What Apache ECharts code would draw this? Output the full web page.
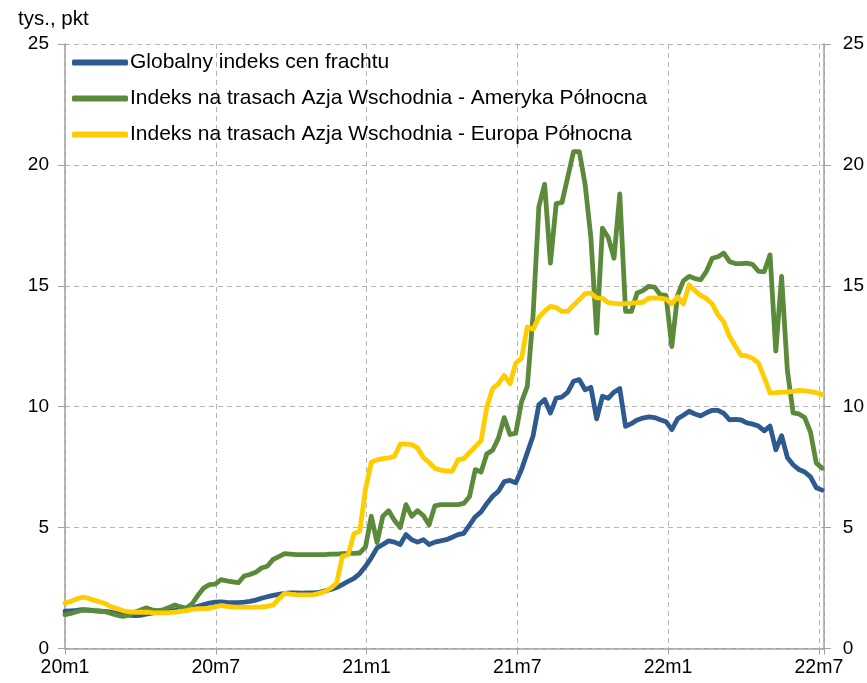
<!DOCTYPE html>
<html><head><meta charset="utf-8">
<script src="https://cdn.jsdelivr.net/npm/echarts@6/dist/echarts.min.js"></script>
<style>html,body{margin:0;padding:0;background:#fff}#c{width:867px;height:683px}</style>
</head><body><div id="c"></div>
<script>
const seriesNames = [
  'Globalny indeks cen frachtu',
  'Indeks na trasach Azja Wschodnia - Ameryka Północna',
  'Indeks na trasach Azja Wschodnia - Europa Północna'
];
const xTickLabels = ['20m1','20m7','21m1','21m7','22m1','22m7'];
const yTicks = [0,5,10,15,20,25];
const unitLabel = 'tys., pkt';
// weekly observations starting 2020-01-01
const globalIdx = [
1.54,1.56,1.58,1.61,1.6,1.57,1.55,1.53,1.5,1.45,
1.4,1.38,1.36,1.37,1.42,1.46,1.5,1.52,1.55,1.58,
1.62,1.65,1.68,1.75,1.82,1.88,1.92,1.93,1.91,1.9,
1.9,1.92,1.95,2.0,2.08,2.14,2.2,2.24,2.28,2.3,
2.3,2.29,2.3,2.3,2.32,2.38,2.44,2.52,2.64,2.78,
2.9,3.1,3.4,3.75,4.16,4.3,4.45,4.4,4.3,4.71,
4.5,4.4,4.5,4.3,4.4,4.45,4.5,4.6,4.71,4.76,
5.1,5.45,5.65,6.0,6.3,6.5,6.9,6.95,6.85,7.4,
8.1,8.8,10.08,10.3,9.74,10.36,10.4,10.6,11.05,11.12,
10.7,10.8,9.5,10.43,10.35,10.6,10.75,9.19,9.3,9.45,
9.53,9.58,9.55,9.46,9.38,9.05,9.5,9.65,9.81,9.7,
9.62,9.75,9.85,9.85,9.72,9.46,9.48,9.45,9.33,9.28,
9.2,9.0,9.2,8.22,8.8,7.9,7.6,7.4,7.3,7.1,
6.65,6.55
];
const usRoute = [
1.4,1.45,1.52,1.58,1.58,1.56,1.55,1.52,1.45,1.38,
1.33,1.38,1.5,1.58,1.68,1.6,1.57,1.6,1.7,1.8,
1.72,1.67,1.85,2.2,2.5,2.64,2.66,2.85,2.8,2.76,
2.72,3.0,3.06,3.15,3.33,3.4,3.68,3.8,3.92,3.9,
3.88,3.88,3.88,3.88,3.88,3.88,3.9,3.9,3.92,3.93,
3.93,3.95,4.2,5.47,4.38,5.47,5.7,5.3,5.0,5.95,
5.47,5.7,5.5,5.12,5.9,5.95,5.95,5.95,5.95,6.0,
6.29,7.4,7.3,8.05,8.2,8.7,9.55,8.85,8.91,10.2,
10.84,13.8,18.28,19.2,15.94,18.4,18.45,19.5,20.55,20.55,
19.2,17.0,13.04,17.38,17.0,16.14,18.8,13.94,13.94,14.7,
14.8,14.98,14.95,14.63,14.6,12.49,14.6,15.2,15.39,15.3,
15.25,15.6,16.14,16.2,16.35,16.0,15.92,15.92,15.94,15.88,
15.6,15.59,16.28,12.3,15.39,11.5,9.74,9.7,9.55,8.95,
7.67,7.46
];
const euRoute = [
1.88,1.95,2.05,2.12,2.08,2.0,1.93,1.85,1.72,1.65,
1.57,1.52,1.5,1.5,1.5,1.48,1.47,1.47,1.48,1.5,
1.53,1.57,1.62,1.65,1.65,1.66,1.72,1.78,1.74,1.72,
1.71,1.7,1.7,1.71,1.72,1.74,1.8,2.05,2.28,2.25,
2.23,2.22,2.22,2.23,2.28,2.36,2.5,2.7,3.81,3.88,
4.75,4.85,6.6,7.7,7.8,7.85,7.88,7.95,8.45,8.45,
8.43,8.3,7.9,7.7,7.45,7.38,7.34,7.33,7.8,7.85,
8.1,8.35,8.6,10.0,10.75,10.95,11.3,10.95,11.8,12.0,
13.3,13.2,13.7,13.95,14.15,14.1,13.94,13.94,14.2,14.42,
14.68,14.7,14.5,14.49,14.3,14.27,14.25,14.26,14.28,14.3,
14.32,14.49,14.49,14.49,14.45,14.25,14.55,14.25,15.04,14.8,
14.6,14.47,14.25,13.8,13.5,12.9,12.5,12.12,12.1,12.0,
11.8,11.2,10.57,10.58,10.6,10.6,10.63,10.68,10.65,10.62,
10.58,10.5
];
const colors = ['#2F5A8F','#5B8A3B','#FFCC00'];
const DAYS_PER_MONTH = 30.4375;
const toPoints = arr => arr.map((v, i) => [i * 7 / DAYS_PER_MONTH, v]);
const FONT = 'Liberation Sans, Arial, sans-serif';
const gridColor = '#b4b4b4';
const axisColor = '#a0a0a0';

const chart = echarts.init(document.getElementById('c'), null, {renderer: 'canvas'});
const yAxisBase = (pos) => ({
  type: 'value', position: pos, min: yTicks[0], max: yTicks[yTicks.length-1], interval: 5,
  axisLine: {show: true, lineStyle: {color: axisColor, width: 1.5}},
  axisTick: {show: true, length: 7, lineStyle: {color: axisColor, width: 1}},
  axisLabel: {color: '#000', fontSize: 19, fontFamily: FONT, margin: pos === 'left' ? 16 : 19},
  splitLine: {show: pos === 'left', lineStyle: {color: gridColor, type: [5, 4], width: 1}}
});
chart.setOption({
  animation: false,
  backgroundColor: '#fff',
  title: {text: unitLabel, left: 13, top: 4, textStyle: {fontSize: 20.5, fontWeight: 'normal', color: '#000', fontFamily: FONT}},
  grid: {left: 65, right: 42, top: 44, bottom: 34.5, containLabel: false},
  legend: {
    orient: 'vertical', left: 67, top: 47, itemWidth: 56, itemHeight: 6, itemGap: 15,
    icon: 'roundRect',
    textStyle: {fontSize: 21, color: '#000', fontFamily: FONT, padding: [0,0,0,-3]},
    data: seriesNames
  },
  xAxis: {
    type: 'value', min: 0, max: 30.2, interval: 6,
    axisLine: {show: true, onZero: true, lineStyle: {color: axisColor, width: 1.5}},
    axisTick: {show: true, length: 6, lineStyle: {color: axisColor}},
    axisLabel: {
      color: '#000', fontSize: 19.5, fontFamily: FONT, margin: 9, showMaxLabel: true,
      formatter: v => (Math.abs(v % 6) < 1e-9 ? xTickLabels[Math.round(v / 6)] : '')
    },
    splitLine: {show: true, lineStyle: {color: gridColor, type: [5, 4], width: 1}}
  },
  yAxis: [yAxisBase('left'), yAxisBase('right')],
  series: [globalIdx, usRoute, euRoute].map((arr, k) => ({
    name: seriesNames[k], type: 'line', data: toPoints(arr), showSymbol: false, symbol: 'none',
    color: colors[k],
    lineStyle: {width: 4.8, color: colors[k], join: 'round', cap: 'round'},
    z: 2 + k
  }))
});
</script></body></html>
